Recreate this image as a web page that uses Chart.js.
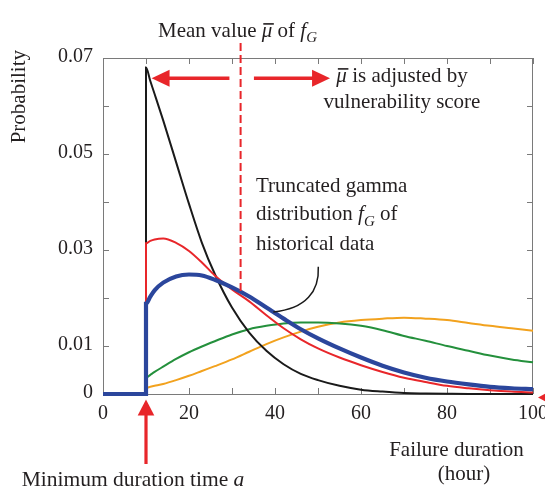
<!DOCTYPE html>
<html><head><meta charset="utf-8">
<script src="https://cdn.jsdelivr.net/npm/chart.js@4"></script>
<style>html,body{margin:0;padding:0;background:#fff}#wrap{width:545px;height:492px;position:relative}</style>
</head><body><div id="wrap"><canvas id="c" width="545" height="492"></canvas></div>
<script>
// ---- data ----
const xValues      = [0,10,10,11,12,14,17,20,23,26,30,34,38,42,46,50,55,60,65,70,75,80,85,90,95,100];
const blackValues  = [0,0,0.0680,0.0652,0.0625,0.0570,0.0483,0.0396,0.0315,0.0250,0.0180,0.0128,0.0090,0.0062,0.0042,0.0029,0.0017,0.0009,0.0005,0.0002,0.0001,0.00004,0,0,0,0];
const redValues    = [0,0,0.0314,0.0319,0.0322,0.0324,0.0315,0.0298,0.0274,0.0247,0.0218,0.0193,0.0164,0.0137,0.0114,0.0095,0.0076,0.0060,0.0046,0.0034,0.0025,0.0017,0.0012,0.0008,0.0005,0.0003];
const blueValues   = [0,0,0.0188,0.0203,0.0216,0.0232,0.0245,0.0249,0.0247,0.0238,0.0222,0.0203,0.0180,0.0157,0.0135,0.0116,0.0095,0.0076,0.0059,0.0045,0.0034,0.0026,0.0020,0.0015,0.0012,0.0010];
const greenValues  = [0,0,0.0034,0.0040,0.0046,0.0057,0.0073,0.0087,0.0099,0.0110,0.0124,0.0135,0.0142,0.0147,0.0149,0.0149,0.0147,0.0142,0.0133,0.0121,0.0111,0.0100,0.0090,0.0080,0.0072,0.0066];
const orangeValues = [0,0,0.0013,0.0015,0.0017,0.0021,0.0029,0.0038,0.0048,0.0058,0.0072,0.0088,0.0104,0.0118,0.0130,0.0140,0.0149,0.0154,0.0157,0.0159,0.0157,0.0154,0.0148,0.0142,0.0137,0.0132];
const xTicks = [0,10,20,30,40,50,60,70,80,90,100];
const xTickLabels = ['0','20','40','60','80','100'];
const yTicks = [0,0.01,0.02,0.03,0.04,0.05,0.06,0.07];
const yTickLabels = ['0','0.01','0.03','0.05','0.07'];
const minDuration = 10;      // a
const meanValue = 32;        // mean of f_G
const meanCurveValue = 0.0212;
const arrowLevel = 0.0658;
const leftArrow = [29.4, 11.3];
const rightArrow = [35.1, 52.8];

const FONT = '"Liberation Serif","Times New Roman",serif';
const TXT = '#231f20';
const RED = '#e8262a';

function pts(vals){ return xValues.map((x,i)=>({x:x,y:vals[i]})); }
function fontFor(p,size){ const s = p.sub ? Math.round(size*0.72) : size; return (p.italic?'italic ':'') + s + 'px ' + FONT; }
function rich(ctx,x,y,parts,size,align){
  const w = parts.map(p=>{ctx.font=fontFor(p,size);return ctx.measureText(p.t).width;});
  const total = w.reduce((a,b)=>a+b,0);
  let cx = align==='center' ? x-total/2 : x;
  ctx.textAlign='left'; ctx.textBaseline='alphabetic'; ctx.fillStyle=TXT;
  parts.forEach((p,i)=>{
    ctx.font=fontFor(p,size);
    ctx.fillText(p.t,cx,y+(p.sub?size*0.27:0));
    if(p.bar){ ctx.save(); ctx.strokeStyle=TXT; ctx.lineWidth=1.6; ctx.beginPath(); ctx.moveTo(cx+1.5,y-size*0.6); ctx.lineTo(cx+w[i]+1.5,y-size*0.6); ctx.stroke(); ctx.restore(); }
    cx += w[i];
  });
}
function arrow(ctx,x1,y1,x2,y2,hl,hw,sw){
  const a=Math.atan2(y2-y1,x2-x1), c=Math.cos(a), s=Math.sin(a);
  const bx=x2-hl*c, by=y2-hl*s;
  ctx.save(); ctx.strokeStyle=RED; ctx.fillStyle=RED; ctx.lineWidth=sw; ctx.lineCap='butt';
  ctx.beginPath(); ctx.moveTo(x1,y1); ctx.lineTo(bx+c,by+s); ctx.stroke();
  ctx.beginPath(); ctx.moveTo(x2,y2); ctx.lineTo(bx-hw*s,by+hw*c); ctx.lineTo(bx+hw*s,by-hw*c); ctx.closePath(); ctx.fill();
  ctx.restore();
}

const deco = {
  id:'deco',
  beforeDatasetsDraw(chart){
    const ctx=chart.ctx, a=chart.chartArea, xs=chart.scales.x, ys=chart.scales.y;
    ctx.save();
    ctx.strokeStyle='#7a7a7a'; ctx.lineWidth=1;
    ctx.strokeRect(a.left+0.5,a.top+0.5,a.right-a.left-1,a.bottom-a.top);
    ctx.beginPath();
    xTicks.forEach(v=>{ const px=Math.round(xs.getPixelForValue(v))+0.5;
      ctx.moveTo(px,a.bottom); ctx.lineTo(px,a.bottom-6);
      ctx.moveTo(px,a.top); ctx.lineTo(px,a.top+6); });
    yTicks.forEach(v=>{ const py=Math.round(ys.getPixelForValue(v))+0.5;
      ctx.moveTo(a.left,py); ctx.lineTo(a.left+6,py);
      ctx.moveTo(a.right,py); ctx.lineTo(a.right-6,py); });
    ctx.stroke();
    ctx.fillStyle=TXT; ctx.font='20px '+FONT;
    ctx.textAlign='right'; ctx.textBaseline='middle';
    yTickLabels.forEach(l=>{ ctx.fillText(l, a.left-10, ys.getPixelForValue(parseFloat(l))-1); });
    ctx.textAlign='center'; ctx.textBaseline='alphabetic';
    xTickLabels.forEach(l=>{ ctx.fillText(l, xs.getPixelForValue(parseFloat(l)), a.bottom+25); });
    ctx.restore();
  },
  afterDatasetsDraw(chart){
    const ctx=chart.ctx, a=chart.chartArea, xs=chart.scales.x, ys=chart.scales.y;
    ctx.save();
    // mean dashed line
    const mx=xs.getPixelForValue(meanValue);
    ctx.strokeStyle=RED; ctx.lineWidth=2; ctx.setLineDash([8,4]);
    ctx.beginPath(); ctx.moveTo(mx,a.top-15); ctx.lineTo(mx,ys.getPixelForValue(meanCurveValue)); ctx.stroke();
    ctx.setLineDash([]);
    // top arrows
    const ay=ys.getPixelForValue(arrowLevel);
    arrow(ctx,xs.getPixelForValue(leftArrow[0]),ay,xs.getPixelForValue(leftArrow[1]),ay,18,8.5,3.5);
    arrow(ctx,xs.getPixelForValue(rightArrow[0]),ay,xs.getPixelForValue(rightArrow[1]),ay,18,8.5,3.5);
    // minimum duration arrow
    const ax=xs.getPixelForValue(minDuration);
    arrow(ctx,ax,a.bottom+70,ax,a.bottom+5.5,16,8.3,3.2);
    // right-edge arrowhead
    arrow(ctx,xs.getPixelForValue(100)+40,a.bottom+3.5,xs.getPixelForValue(100)+5,a.bottom+3.5,16,8.3,3.2);
    // leader curve
    ctx.strokeStyle='#1a1a1a'; ctx.lineWidth=1.5;
    ctx.beginPath(); ctx.moveTo(318.3,266.7); ctx.bezierCurveTo(319.5,291,306,309,xs.getPixelForValue(39.6),ys.getPixelForValue(0.0171)); ctx.stroke();
    // texts
    const S=21;
    rich(ctx,158,36.5,[{t:'Mean value '},{t:'\u03bc',italic:true,bar:true},{t:' of '},{t:'f',italic:true},{t:'G',italic:true,sub:true}],S,'left');
    rich(ctx,402,81.5,[{t:'\u03bc',italic:true,bar:true},{t:' is adjusted by'}],S,'center');
    rich(ctx,402,108.3,[{t:'vulnerability score'}],S,'center');
    rich(ctx,256,191.7,[{t:'Truncated gamma'}],S,'left');
    rich(ctx,256,220,[{t:'distribution '},{t:'f',italic:true},{t:'G',italic:true,sub:true},{t:' of'}],S,'left');
    rich(ctx,256,250,[{t:'historical data'}],S,'left');
    rich(ctx,456.5,456,[{t:'Failure duration'}],S,'center');
    rich(ctx,464,480,[{t:'(hour)'}],S,'center');
    rich(ctx,133,486,[{t:'Minimum duration time '},{t:'a',italic:true}],21.5,'center');
    ctx.translate(25,96.7); ctx.rotate(-Math.PI/2);
    rich(ctx,0,0,[{t:'Probability'}],S,'center');
    ctx.restore();
  }
};

function ds(vals,color,width,order){
  return {data:pts(vals),borderColor:color,borderWidth:width,pointRadius:0,fill:false,
    cubicInterpolationMode:'monotone',clip:false,order:order};
}

new Chart(document.getElementById('c'),{
  type:'line',
  data:{datasets:[
    ds(blueValues,'#2b469c',4.2,0),
    ds(redValues,RED,2,1),
    ds(blackValues,'#1a1a1a',2,2),
    ds(greenValues,'#24903c',2,3),
    ds(orangeValues,'#f2a21e',2,4)
  ]},
  options:{
    responsive:false, animation:false, devicePixelRatio:1,
    layout:{padding:{left:103,right:12,top:58,bottom:98}},
    plugins:{legend:{display:false},tooltip:{enabled:false}},
    scales:{
      x:{type:'linear',min:0,max:100,display:false},
      y:{type:'linear',min:0,max:0.07,display:false}
    }
  },
  plugins:[deco]
});
</script></body></html>
